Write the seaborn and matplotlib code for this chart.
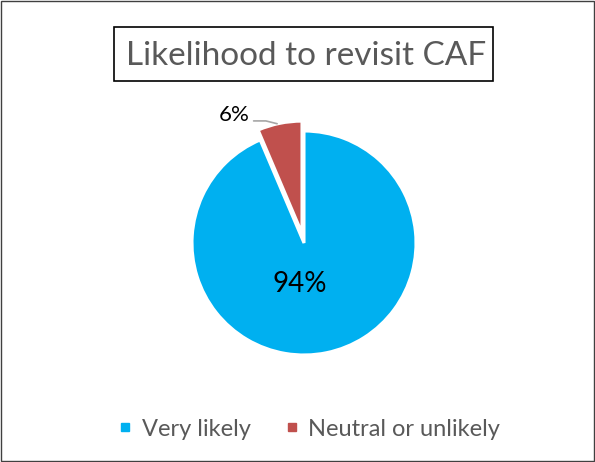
import matplotlib
matplotlib.use("Agg")
import matplotlib.pyplot as plt
import seaborn as sns
from matplotlib.patches import Rectangle
from matplotlib.lines import Line2D

sns.set_style("white")
plt.rcParams['font.family'] = ['Lato', 'DejaVu Sans']

labels = ['Very likely', 'Neutral or unlikely']
# shares as measured from the slice angles (labels are rounded)
values = [93.6, 6.4]
pct_labels = ['94%', '6%']
title = 'Likelihood to revisit CAF'

colors = ['#00B0F0', '#C0504D']
text_gray = '#595959'

fig = plt.figure(figsize=(5.95, 4.62), dpi=100)

# pie axes, center ~ (304, 243) px, radius ~112 px
r_px = 112
lim = 1.3
side = 2 * lim * r_px
ax = fig.add_axes([(304 - side / 2) / 595, (462 - 243 - side / 2) / 462, side / 595, side / 462])
ax.pie(values, colors=colors, startangle=90, counterclock=False,
       explode=[0, 0.09], wedgeprops=dict(linewidth=2.2, edgecolor='white'))
ax.set_xlim(-lim, lim)
ax.set_ylim(-lim, lim)
ax.set_aspect('equal')
ax.axis('off')

# data labels
ax.text(-0.04, -0.37, pct_labels[0], ha='center', va='center', fontsize=20, color='black')
ax.text(-0.62, 1.14, pct_labels[1], ha='center', va='center', fontsize=16, color='black')
ax.plot([-0.45, -0.34, -0.24], [1.09, 1.09, 1.065], color='#A6A6A6', lw=1.2)

# title box
fig.text(306 / 595, 1 - 56 / 462, title, ha='center', va='center', fontsize=24, color=text_gray)
fig.patches.append(Rectangle((114 / 595, 1 - 81 / 462), (493 - 114) / 595, 54 / 462,
                             transform=fig.transFigure, fill=False, edgecolor='black', lw=1.2))

# legend
handles = [Line2D([0], [0], marker='s', linestyle='', markersize=5.8,
                  markerfacecolor=c, markeredgecolor=c) for c in colors]
fig.legend(handles, labels, loc='center', bbox_to_anchor=(308 / 595, 1 - 429 / 462),
           ncol=2, frameon=False, fontsize=17, labelcolor=text_gray,
           handletextpad=0.3, columnspacing=1.33, handlelength=0.8)

# outer border
fig.patches.append(Rectangle((0.002, 0.002), 0.996, 0.996, transform=fig.transFigure,
                             fill=False, edgecolor='#404040', lw=1))

fig.savefig('out.png', dpi=100)
